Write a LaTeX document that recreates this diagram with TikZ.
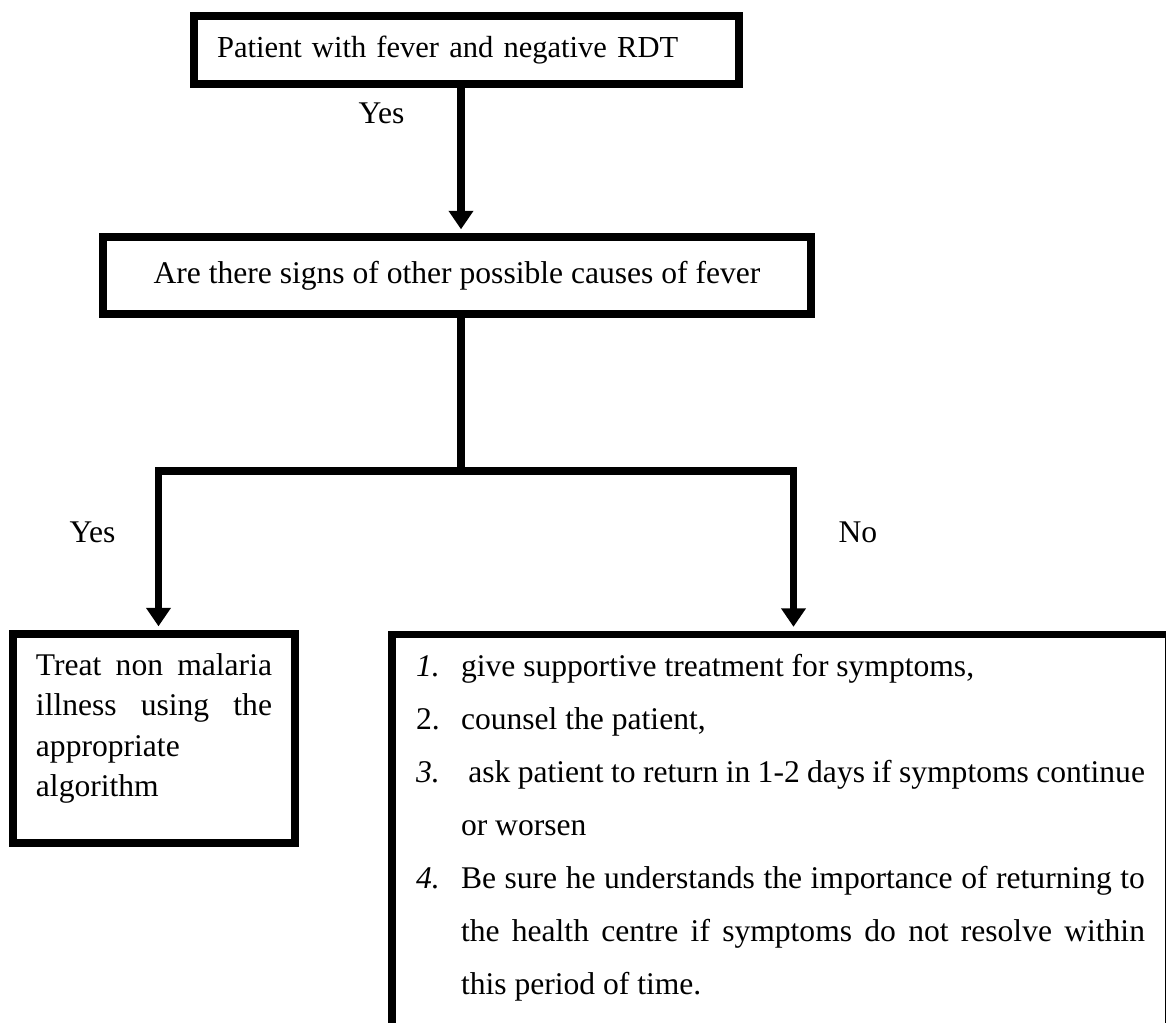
\documentclass[tikz,border=0pt]{standalone}
\usepackage{fontspec}
\setmainfont{Liberation Serif}
\usetikzlibrary{arrows.meta,positioning}
\newcommand{\caseitem}[1]{\hangindent=17.1pt\hangafter=1\makebox[17.1pt][l]{#1}}

\begin{document}
\begin{tikzpicture}[x=0.38pt, y=-0.38pt, every node/.style={font=\fontsize{12pt}{14.4pt}\selectfont},
			box/.style={draw, line width=3pt, inner xsep=8.75pt, execute at begin node={\hyphenpenalty=10000\exhyphenpenalty=10000}},
			arr/.style={line width=2.9pt, -{Triangle[width=9pt, length=7pt]}, shorten >=1.4pt},
			lab/.style={anchor=base west, inner sep=0pt}]
			\useasboundingbox (0,0) rectangle (1166,1023);
			\clip (0,0) rectangle (1166,1023);
			\node[box, text width=189.6pt, minimum height=25.8pt, align=left, font=\fontsize{11.6pt}{14pt}\selectfont] (rdt) at (466.5,50) {Patient with fever and negative RDT};
			\node[box, minimum width=269pt, minimum height=29.3pt] (q) at (457,275.5) {Are there signs of other possible causes of fever};
			\node[box, anchor=north, text width=89.7pt, inner ysep=7.4pt, align=justify, font=\fontsize{12pt}{15.4pt}\selectfont] (tr) at (154,630) {Treat non malaria\linebreak illness using the\linebreak appropriate\newline algorithm\rule[-10pt]{0pt}{10pt}};
			\node[box, anchor=north, text width=277pt, inner xsep=9.15pt, inner ysep=7.6pt, align=justify, font=\fontsize{12pt}{20.1pt}\selectfont] (cs) at (780.5,630.5) {\caseitem{\textit{1.}}give supportive treatment for symptoms,\par
				\caseitem{2.}counsel the patient,\par
				\caseitem{\textit{3.}}\ ask patient to return in 1-2 days if symptoms continue\linebreak or worsen\par
				\caseitem{\textit{4.}}Be sure he understands the importance of returning to\linebreak the health centre if symptoms do not resolve within\linebreak this period of time.\rule[-40pt]{0pt}{40pt}\par};
			\coordinate (spine) at (461,0);
			\coordinate (fork) at (461,471);
			\coordinate (forkL) at (158.5,471);
			\coordinate (forkR) at (793.5,471);
			\draw[arr] (rdt.south -| spine) -- (q.north -| spine);
			\draw[line width=2.9pt] (q.south -| spine) -- (fork);
			\draw[arr] (fork) -- (forkL) -- (forkL |- tr.north);
			\draw[arr] (fork) -- (forkR) -- (forkR |- cs.north);
			\node[lab] (y1) at (358,124) {Yes};
			\node[lab] (y2) at (69,543) {Yes};
			\node[lab] (n1) at (838,543) {No};
		\end{tikzpicture}
\end{document}
